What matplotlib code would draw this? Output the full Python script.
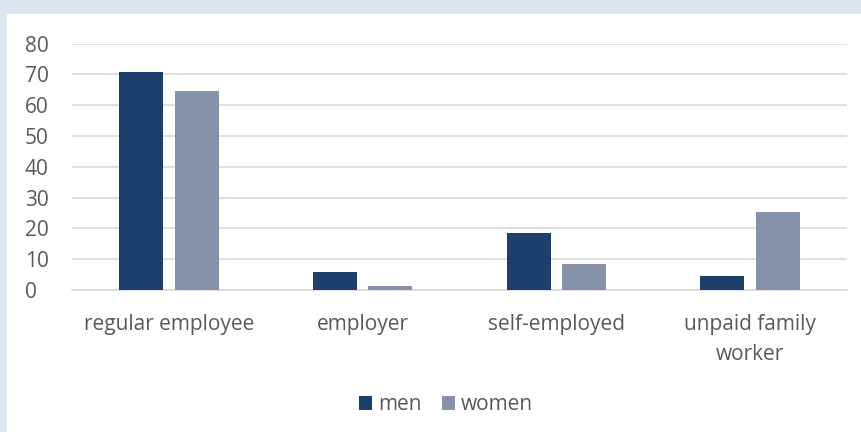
import numpy as np
import matplotlib
matplotlib.use("Agg")
from matplotlib import pyplot as plt
from matplotlib.patches import Rectangle

categories = ["regular employee", "employer", "self-employed", "unpaid family\nworker"]
men = [70.8, 5.8, 18.6, 4.4]
women = [64.5, 1.3, 8.4, 25.4]

MEN_COLOR = "#1d3f6b"
WOMEN_COLOR = "#8691aa"
TEXT_COLOR = "#595959"
FS = 15

plt.rcParams['font.family'] = ['Open Sans', 'DejaVu Sans']

fig = plt.figure(figsize=(8.61, 4.32), dpi=100)
fig.patch.set_facecolor("#dce6f1")
# white chart area (light blue band on top and left only)
fig.patches.append(Rectangle((7 / 861, 0), 1, 1 - 14 / 432, transform=fig.transFigure,
                             facecolor="white", edgecolor="none", zorder=-10))

ax = fig.add_axes([72 / 861, 1 - 290 / 432, (847 - 72) / 861, (290 - 43.7) / 432])
ax.set_facecolor("none")

x = np.arange(len(categories))
w = 0.227
off = 0.143
ax.bar(x - off, men, w, color=MEN_COLOR, label="men", zorder=3)
ax.bar(x + off, women, w, color=WOMEN_COLOR, label="women", zorder=3)

ax.set_xlim(-0.5, len(categories) - 0.5)
ax.set_ylim(0, 80)
ax.set_yticks(range(0, 81, 10))
ax.yaxis.grid(True, color="#d9d9d9", linewidth=1.2, zorder=0)
ax.set_xticks(x)
ax.set_xticklabels(categories, linespacing=1.55)
for s in ["top", "right", "left"]:
    ax.spines[s].set_visible(False)
ax.spines["bottom"].set_color("#d9d9d9")
ax.spines["bottom"].set_linewidth(1.2)
ax.tick_params(axis="both", length=0, labelsize=FS, labelcolor=TEXT_COLOR)
ax.tick_params(axis="x", pad=17.5)
ax.tick_params(axis="y", pad=34)
for lbl in ax.get_yticklabels():
    lbl.set_horizontalalignment("left")

leg = ax.legend(loc="center", bbox_to_anchor=(446 / 861, 1 - 405 / 432),
                bbox_transform=fig.transFigure, ncol=2, frameon=False,
                fontsize=FS, handlelength=0.63, handleheight=0.63,
                handletextpad=0.3, columnspacing=0.95)
for t in leg.get_texts():
    t.set_color(TEXT_COLOR)

fig.savefig("out.png", dpi=100, facecolor=fig.get_facecolor())
